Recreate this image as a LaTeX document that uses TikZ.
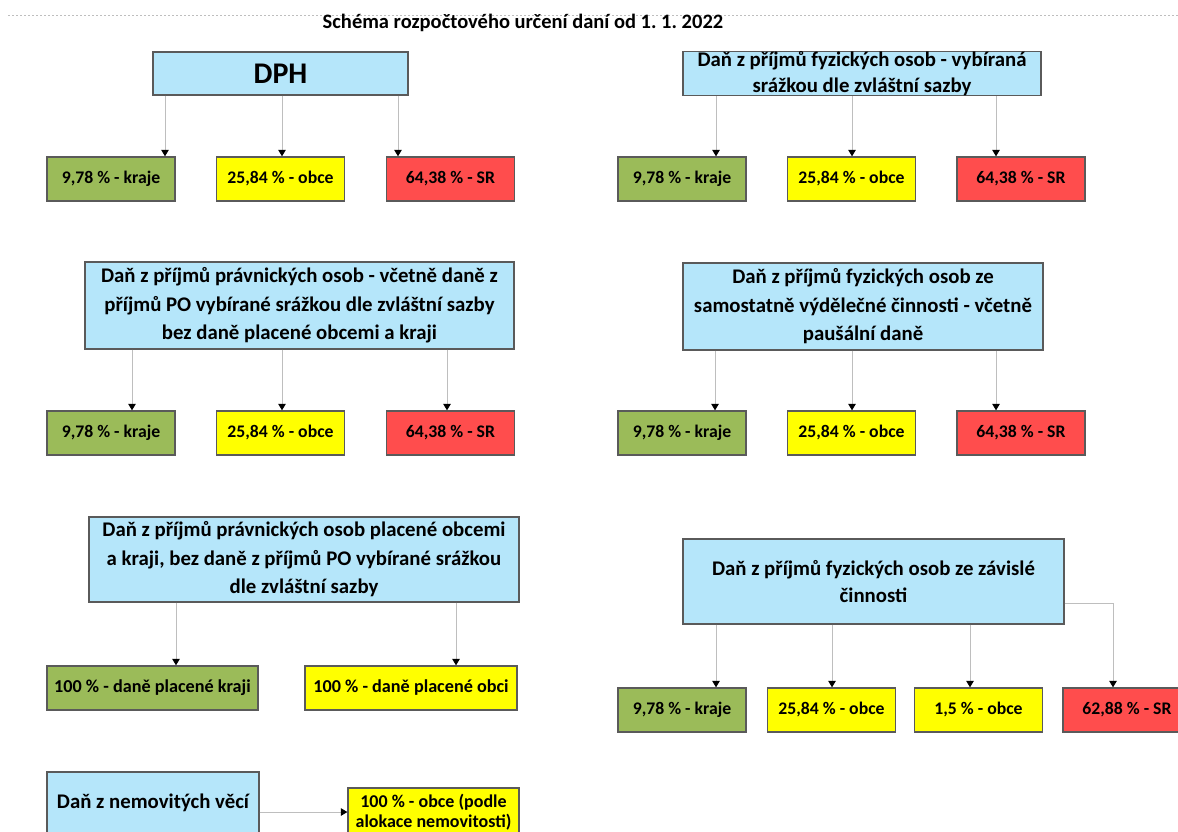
\documentclass[tikz,border=0pt]{standalone}
\usepackage{fontspec}
\setmainfont{Carlito}
\frenchspacing
\usetikzlibrary{arrows.meta}
\definecolor{boxblue}{RGB}{181,230,250}
\definecolor{boxgreen}{RGB}{155,187,89}
\definecolor{boxyellow}{RGB}{255,255,0}
\definecolor{boxred}{RGB}{255,77,77}
\definecolor{boxline}{RGB}{90,90,90}
\definecolor{arrline}{RGB}{190,190,190}
\begin{document}
\begin{tikzpicture}[x=1pt,y=-1pt,
  box/.style={draw=boxline,line width=1.3pt,inner sep=0pt,align=center,
    font=\fontsize{20.8}{28.5}\selectfont\bfseries},
  srcbox/.style={box,fill=boxblue},
  smallfont/.style={font=\fontsize{17.7}{20}\selectfont\bfseries,text height=12.5pt,text depth=4pt},
  gbox/.style={box,fill=boxgreen,minimum width=128,minimum height=44,smallfont},
  ybox/.style={box,fill=boxyellow,minimum width=128,minimum height=44,smallfont},
  rbox/.style={box,fill=boxred,minimum width=128,minimum height=44,smallfont},
  arr/.style={draw=arrline,line width=1pt,-{Triangle[width=7.5pt,length=6.5pt,color=black,fill=black]}}]
\useasboundingbox (0,0) rectangle (1178,832);
\draw[arrline,dash pattern=on 2pt off 2pt,line width=0.6pt] (8,15) -- (1178,15);
\node[font=\fontsize{20.5}{24}\selectfont\bfseries] (title) at (523,23) {Schéma rozpočtového určení daní od 1. 1. 2022};

% Row 1 left
\node[srcbox,minimum width=255,minimum height=43,font=\fontsize{30}{34}\selectfont\bfseries] (dph) at (280.5,73.5) {DPH};
\node[gbox] (a1) at (111,179) {9,78 \% - kraje};
\node[ybox] (a2) at (280.5,179) {25,84 \% - obce};
\node[rbox] (a3) at (450.5,179) {64,38 \% - SR};
\draw[arr] (165,0 |- dph.south) -- (165,0 |- a1.north);
\draw[arr] (282,0 |- dph.south) -- (282,0 |- a2.north);
\draw[arr] (398,0 |- dph.south) -- (398,0 |- a3.north);

% Row 1 right
\node[srcbox,minimum width=358,minimum height=43] (fsr) at (862,73.5) {Daň z příjmů fyzických osob - vybíraná\\[-3pt]srážkou dle zvláštní sazby};
\node[gbox] (b1) at (682,179) {9,78 \% - kraje};
\node[ybox] (b2) at (851.5,179) {25,84 \% - obce};
\node[rbox] (b3) at (1021,179) {64,38 \% - SR};
\draw[arr] (716,0 |- fsr.south) -- (716,0 |- b1.north);
\draw[arr] (852,0 |- fsr.south) -- (852,0 |- b2.north);
\draw[arr] (996,0 |- fsr.south) -- (996,0 |- b3.north);

% Row 2 left
\node[srcbox,minimum width=429,minimum height=87] (po) at (299.5,305.5) {Daň z příjmů právnických osob - včetně daně z\\příjmů PO vybírané srážkou dle zvláštní sazby\\bez daně placené obcemi a kraji};
\node[gbox] (c1) at (111,433) {9,78 \% - kraje};
\node[ybox] (c2) at (280.5,433) {25,84 \% - obce};
\node[rbox] (c3) at (450.5,433) {64,38 \% - SR};
\draw[arr] (132,0 |- po.south) -- (132,0 |- c1.north);
\draw[arr] (282,0 |- po.south) -- (282,0 |- c2.north);
\draw[arr] (447,0 |- po.south) -- (447,0 |- c3.north);

% Row 2 right
\node[srcbox,minimum width=360,minimum height=87] (osvc) at (863,306.5) {Daň z příjmů fyzických osob ze\\samostatně výdělečné činnosti - včetně\\paušální daně};
\node[gbox] (d1) at (682,433) {9,78 \% - kraje};
\node[ybox] (d2) at (851.5,433) {25,84 \% - obce};
\node[rbox] (d3) at (1021,433) {64,38 \% - SR};
\draw[arr] (715,0 |- osvc.south) -- (715,0 |- d1.north);
\draw[arr] (852,0 |- osvc.south) -- (852,0 |- d2.north);
\draw[arr] (996,0 |- osvc.south) -- (996,0 |- d3.north);

% Row 3 left
\node[srcbox,minimum width=430,minimum height=85] (pook) at (304,559.5) {Daň z příjmů právnických osob placené obcemi\\a kraji, bez daně z příjmů PO vybírané srážkou\\dle zvláštní sazby};
\node[gbox,minimum width=211,font=\fontsize{18.2}{20}\selectfont\bfseries] (e1) at (152.5,688) {100 \% - daně placené kraji};
\node[ybox,minimum width=212,font=\fontsize{18.2}{20}\selectfont\bfseries] (e2) at (411,688) {100 \% - daně placené obci};
\draw[arr] (176,0 |- pook.south) -- (176,0 |- e1.north);
\draw[arr] (456,0 |- pook.south) -- (456,0 |- e2.north);

% Row 3 right
\node[srcbox,minimum width=381,minimum height=85] (zc) at (873.5,581.5) {Daň z příjmů fyzických osob ze závislé\\[-2pt]činnosti};
\node[gbox] (f1) at (682,710) {9,78 \% - kraje};
\node[ybox] (f2) at (831.5,710) {25,84 \% - obce};
\node[ybox] (f3) at (978.5,710) {1,5 \% - obce};
\node[rbox] (f4) at (1127,710) {62,88 \% - SR};
\draw[arr] (716,0 |- zc.south) -- (716,0 |- f1.north);
\draw[arr] (832,0 |- zc.south) -- (832,0 |- f2.north);
\draw[arr] (970,0 |- zc.south) -- (970,0 |- f3.north);
\draw[arr] (zc.east |- 0,603) -| (1113,0 |- f4.north);

% Row 4
\node[srcbox,minimum width=212,minimum height=88] (nem) at (153,816) {\raisebox{8pt}[0pt][0pt]{Daň z nemovitých věcí}};
\node[ybox,minimum width=171,minimum height=48,text height=,text depth=,font=\fontsize{18}{20}\selectfont\bfseries] (nemo) at (433.5,812) {100 \% - obce (podle\\alokace nemovitosti)};
\draw[arr] (nem.east |- nemo.west) -- (nemo.west);
\end{tikzpicture}
\end{document}
